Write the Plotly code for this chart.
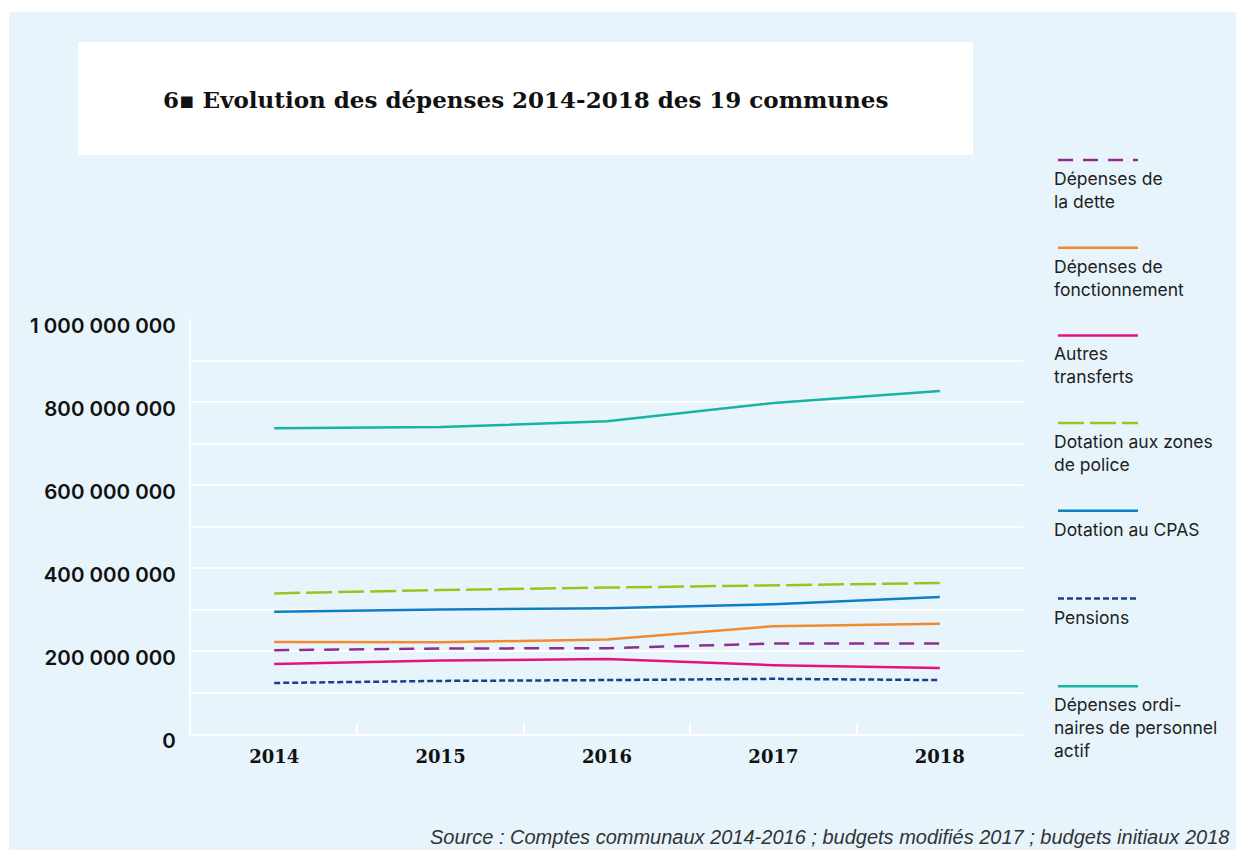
import plotly.graph_objects as go

years = ["2014", "2015", "2016", "2017", "2018"]

dette = [202e6, 206e6, 207e6, 218e6, 218e6]
fonctionnement = [222e6, 221e6, 228e6, 260e6, 266e6]
autres_transferts = [169e6, 177e6, 181e6, 166e6, 159e6]
zones_police = [339e6, 347e6, 353e6, 358e6, 364e6]
cpas = [295e6, 300e6, 303e6, 313e6, 330e6]
pensions = [123e6, 128e6, 130e6, 133e6, 130e6]
personnel = [737e6, 740e6, 754e6, 798e6, 827e6]

y_tick_vals = [0, 200e6, 400e6, 600e6, 800e6, 1000e6]
y_tick_text = ["0", "200 000 000", "400 000 000", "600 000 000", "800 000 000", "1 000 000 000"]

series = [
    ("Dépenses de<br>la dette", dette, "#8E2D8E", "15px,10px"),
    ("Dépenses de<br>fonctionnement", fonctionnement, "#F18A2E", "solid"),
    ("Autres<br>transferts", autres_transferts, "#E5127D", "solid"),
    ("Dotation aux zones<br>de police", zones_police, "#9BC31F", "26px,6px"),
    ("Dotation au CPAS", cpas, "#0F7DC2", "solid"),
    ("Pensions", pensions, "#1F3C8C", "6px,3px"),
    ("Dépenses ordi-<br>naires de personnel<br>actif", personnel, "#18B3A3", "solid"),
]

W, H = 1236, 850
L, R, T, B = 191, 213, 319, 116
PW, PH = W - L - R, H - T - B


def px(x):
    return (x - L) / PW


def py(y):
    return (H - B - y) / PH


fig = go.Figure()
for name, vals, color, dash in series:
    fig.add_trace(go.Scatter(
        x=years, y=vals, mode="lines", name=name.replace("<br>", " "),
        line=dict(color=color, width=2.5, dash=dash), showlegend=False,
    ))

shapes = [
    dict(type="rect", xref="paper", yref="paper", x0=px(9), x1=px(1240), y0=py(12), y1=py(852),
         fillcolor="#E8F4FC", line=dict(width=0), layer="below"),
    dict(type="rect", xref="paper", yref="paper", x0=px(78), x1=px(973), y0=py(42), y1=py(155),
         fillcolor="#FFFFFF", line=dict(width=0), layer="below"),
]
annotations = [
    dict(text="<b>6▪ Evolution des dépenses 2014-2018 des 19 communes</b>", xref="paper", yref="paper",
         x=px(525), y=py(100), xanchor="center", yanchor="middle", showarrow=False,
         font=dict(family="DejaVu Serif", size=23, color="#111111")),
    dict(text="<i>Source : Comptes communaux 2014-2016 ; budgets modifiés 2017 ; budgets initiaux 2018</i>",
         xref="paper", yref="paper", x=px(1231), y=py(837), xanchor="right", yanchor="middle",
         showarrow=False, font=dict(family="Liberation Sans", size=20, color="#333333")),
]

for i, (name, vals, color, dash) in enumerate(series):
    ly = 160 + i * 87.7
    shapes.append(dict(type="line", xref="paper", yref="paper", x0=px(1058), x1=px(1138),
                       y0=py(ly), y1=py(ly), line=dict(color=color, width=2.5, dash=dash)))
    annotations.append(dict(text=name, xref="paper", yref="paper", x=px(1052), y=py(ly + 6),
                            xanchor="left", yanchor="top", align="left", showarrow=False,
                            font=dict(family="Inter", size=17.5, color="#222222")))

fig.update_layout(
    width=W, height=H,
    margin=dict(l=L, r=R, t=T, b=B, pad=0),
    paper_bgcolor="#FFFFFF",
    plot_bgcolor="rgba(0,0,0,0)",
    shapes=shapes,
    annotations=annotations,
    showlegend=False,
    xaxis=dict(
        type="category", range=[-0.5, 4.5], tickson="boundaries",
        ticks="inside", ticklen=11, tickwidth=2, tickcolor="#FFFFFF",
        showline=True, linecolor="#FFFFFF", linewidth=2, showgrid=False, zeroline=False,
        tickfont=dict(family="DejaVu Serif", size=18, color="#111111", weight="bold"),
        ticklabelstandoff=5,
    ),
    yaxis=dict(
        range=[0, 1.0005e9], tickmode="array", tickvals=y_tick_vals, ticktext=y_tick_text,
        showline=True, linecolor="#FFFFFF", linewidth=2,
        showgrid=True, gridcolor="#FFFFFF", gridwidth=2, zeroline=False,
        minor=dict(dtick=100e6, tick0=0, showgrid=True, gridcolor="#FFFFFF", gridwidth=2),
        tickfont=dict(family="Inter", size=20.5, color="#111111", weight=600),
        ticklabelstandoff=9, ticklabelshift=7,
    ),
)

fig.write_html("out.html")
